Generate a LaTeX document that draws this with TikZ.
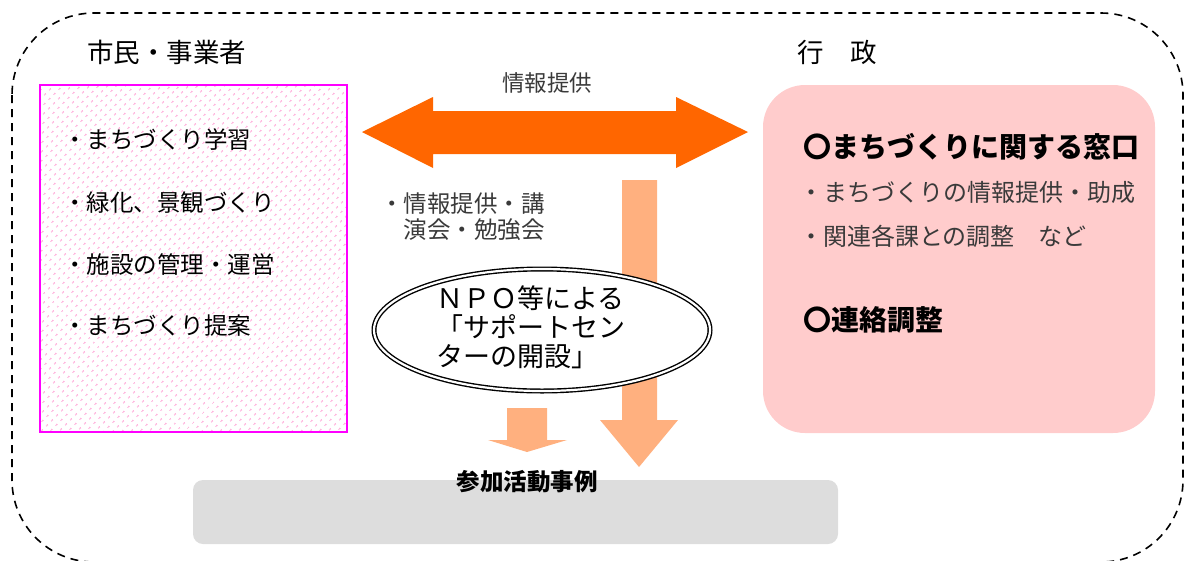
\documentclass[tikz,border=0pt]{standalone}
\usepackage{fontspec}
\newfontfamily\jp{Noto Sans CJK JP}
\usetikzlibrary{patterns.meta,shapes.geometric}
\definecolor{arrowdark}{HTML}{FF6600}
\definecolor{arrowlight}{HTML}{FFB07F}
\definecolor{boxpink}{HTML}{FFCCCC}
\definecolor{dotpink}{HTML}{FF8CCB}
\definecolor{brightmagenta}{HTML}{FF00FF}
\definecolor{grayband}{HTML}{DDDDDD}
\definecolor{txtgray}{HTML}{3A3A3A}
\tikzset{
  heading/.style={font=\jp\fontsize{26.5}{30}\selectfont, anchor=west},
  itemtext/.style={font=\jp\fontsize{23.5}{27}\selectfont, anchor=west},
  righttext/.style={font=\jp\fontsize{24}{27}\selectfont, anchor=west, text=txtgray},
  rightbold/.style={font=\jp\bfseries\fontsize{28}{30}\selectfont, anchor=west},
}
\begin{document}
\begin{tikzpicture}[x=1pt,y=-1pt, every node/.style={inner sep=0pt, outer sep=0pt}]
\useasboundingbox (0,0) rectangle (1185,560);
% dashed outer frame
\begin{scope}
\clip (0,0) rectangle (1185,560);
\draw[line width=1.6pt, dash pattern=on 8pt off 6pt, rounded corners=82pt] (12,13) rectangle (1183,562);
\end{scope}

% headings
\node[heading] (citizenhead) at (87,52) {市民・事業者};
\node[heading] (adminhead) at (797,52) {行　政};

% citizens box
\node[draw=brightmagenta, line width=1.6pt, pattern={Dots[distance=6.4pt, radius=1.1pt, angle=45]}, pattern color=dotpink,
  minimum width=307pt, minimum height=347pt, anchor=north west] (citizen) at (40,85) {};
\node[itemtext] (c1) at (63,140) {・まちづくり学習};
\node[itemtext] (c2) at (63,203) {・緑化、景観づくり};
\node[itemtext] (c3) at (63,265) {・施設の管理・運営};
\node[itemtext] (c4) at (63,326) {・まちづくり提案};

% information double arrow
\fill[arrowdark] (362,132) -- (433,97) -- (433,111) -- (676,111) -- (676,97) -- (748,132)
  -- (676,168) -- (676,154) -- (433,154) -- (433,168) -- cycle;
\node[font=\jp\fontsize{22.5}{26}\selectfont, text=txtgray] (infolabel) at (547,83) {情報提供};

% admin box
\node[fill=boxpink, rounded corners=42pt, minimum width=392pt, minimum height=348pt, anchor=north west] (admin) at (763,85) {};
\node[rightbold] (a1) at (803,147) {〇まちづくりに関する窓口};
\node[righttext] (a2) at (799,192) {・まちづくりの情報提供・助成};
\node[righttext] (a3) at (799,236) {・関連各課との調整　など};
\node[rightbold] (a4) at (803,320) {〇連絡調整};

% support text
\node[font=\jp\fontsize{23.5}{26}\selectfont, anchor=north west, align=left, text=txtgray] (support) at (380,193) {・情報提供・講\\\hphantom{・}演会・勉強会};

% big light arrow
\fill[arrowlight] (622,180) -- (657,180) -- (657,420) -- (678,420) -- (639,467) -- (600,420) -- (622,420) -- cycle;

% NPO ellipse
\node[ellipse, draw=black, line width=1.4pt, double=white, double distance=2.2pt, fill=white,
  minimum width=336pt, minimum height=122pt] (npo) at (542,330) {};
\node[font=\jp\fontsize{27}{29}\selectfont, align=left, anchor=west] (npotext) at (436,327)
  {ＮＰＯ等による\\「サポートセン\\ターの開設」};

% small light arrow
\fill[arrowlight] (507,408) -- (547,408) -- (547,440) -- (567,440) -- (527,452) -- (488,440) -- (507,440) -- cycle;

% activity band
\node[fill=grayband, rounded corners=10pt, minimum width=645pt, minimum height=64pt, anchor=north west] (band) at (193,480) {};
\node[font=\jp\bfseries\fontsize{23.5}{26}\selectfont] (bandtitle) at (527,482) {参加活動事例};
\end{tikzpicture}
\end{document}
